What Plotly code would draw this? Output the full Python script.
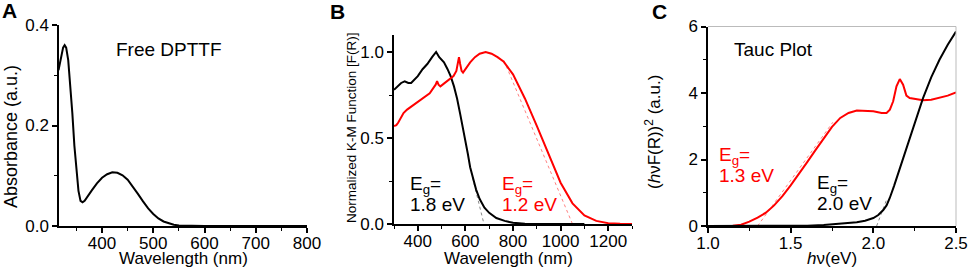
import plotly.graph_objects as go

W, H = 969, 269

# ---------------- Panel A: free DPTTF absorbance ----------------
a_wavelength = [315, 320, 324, 327, 330, 334, 338, 342, 346, 350, 354, 358, 362, 366, 372, 380, 390,
                400, 410, 420, 430, 440, 450, 460, 470, 480, 490, 500, 510, 520, 530, 540, 550,
                570, 600, 700, 800]
a_absorbance = [0.31, 0.335, 0.355, 0.36, 0.355, 0.33, 0.285, 0.225, 0.16, 0.105, 0.07, 0.05, 0.047,
                0.05, 0.058, 0.071, 0.085, 0.096, 0.103, 0.107, 0.106, 0.101, 0.092, 0.079, 0.064,
                0.049, 0.035, 0.024, 0.015, 0.009, 0.005, 0.0025, 0.001, 0.0003, 0.0, 0.0, 0.0]

# ---------------- Panel B: normalized K-M function ----------------
b_black_wl = [300, 315, 330, 345, 360, 372, 385, 400, 420, 440, 460, 477, 490, 510, 525, 538, 552,
              565, 578, 590, 600, 610, 620, 632, 645, 660, 680, 700, 730, 765, 800, 850, 900, 1000, 1100]
b_black_km = [0.78, 0.80, 0.82, 0.83, 0.82, 0.82, 0.84, 0.86, 0.90, 0.93, 0.97, 1.0, 0.97, 0.94,
              0.90, 0.86, 0.80, 0.73, 0.64, 0.56, 0.49, 0.41, 0.33, 0.26, 0.20, 0.145, 0.095, 0.065,
              0.035, 0.018, 0.007, 0.002, 0.0, 0.0, 0.0]
b_red_wl = [300, 310, 318, 330, 340, 355, 370, 390, 410, 430, 450, 465, 475, 481, 487, 495, 505, 520,
            535, 550, 562, 568, 573, 578, 584, 590, 600, 620, 640, 660, 685, 710, 735, 760, 800, 850,
            900, 950, 1000, 1050, 1100, 1150, 1200, 1250, 1300]
b_red_km = [0.57, 0.575, 0.59, 0.625, 0.645, 0.665, 0.68, 0.695, 0.715, 0.74, 0.76, 0.79, 0.81, 0.83,
            0.81, 0.80, 0.81, 0.825, 0.84, 0.86, 0.89, 0.94, 0.97, 0.93, 0.89, 0.88, 0.90, 0.94, 0.97,
            0.99, 1.0, 0.99, 0.97, 0.945, 0.87, 0.73, 0.57, 0.40, 0.24, 0.12, 0.05, 0.018, 0.005,
            0.001, 0.0]
b_black_tangent_wl = [630, 678]
b_black_tangent_km = [0.27, 0.0]
b_red_tangent_wl = [762, 1050]
b_red_tangent_km = [0.95, 0.0]

# ---------------- Panel C: Tauc plot ----------------
c_red_ev = [1.0, 1.1, 1.15, 1.2, 1.25, 1.3, 1.35, 1.4, 1.45, 1.5, 1.55, 1.6, 1.65, 1.7, 1.75, 1.8,
            1.85, 1.9, 1.95, 2.0, 2.05, 2.08, 2.1, 2.12, 2.14, 2.16, 2.18, 2.2, 2.22, 2.25, 2.3,
            2.35, 2.4, 2.45, 2.5]
c_red_tauc = [0.0, 0.0, 0.01, 0.04, 0.13, 0.25, 0.40, 0.62, 0.90, 1.22, 1.56, 1.92, 2.28, 2.65, 2.98,
              3.25, 3.40, 3.47, 3.47, 3.45, 3.40, 3.40, 3.50, 3.75, 4.2, 4.42, 4.25, 3.92, 3.85,
              3.82, 3.78, 3.80, 3.85, 3.92, 4.02]
c_black_ev = [1.0, 1.5, 1.6, 1.7, 1.8, 1.85, 1.9, 1.95, 2.0, 2.03, 2.06, 2.08, 2.1, 2.125, 2.15,
              2.2, 2.25, 2.3, 2.35, 2.4, 2.45, 2.5]
c_black_tauc = [0.0, 0.0, 0.01, 0.03, 0.06, 0.08, 0.11, 0.16, 0.24, 0.33, 0.48, 0.62, 0.85, 1.2,
                1.58, 2.39, 3.14, 3.84, 4.47, 5.0, 5.45, 5.85]
c_red_tangent_ev = [1.30, 1.755]
c_red_tangent_tauc = [0.0, 3.12]
c_black_tangent_ev = [2.02, 2.08]
c_black_tangent_tauc = [0.0, 0.79]

FONT = "Arial, Liberation Sans, sans-serif"
RED = "#ff0000"


def fx(p):
    return p / W


def fy(p):
    return 1 - p / H


fig = go.Figure()


def line(x, y, xa, ya, color, width=2, dash=None):
    fig.add_trace(go.Scatter(x=x, y=y, mode="lines", xaxis=xa, yaxis=ya, showlegend=False,
                             hoverinfo="skip",
                             line=dict(color=color, width=width, dash=dash)))


line(a_wavelength, a_absorbance, "x", "y", "black")
line(b_black_tangent_wl, b_black_tangent_km, "x2", "y2", "#888888", 1, "dot")
line(b_red_tangent_wl, b_red_tangent_km, "x2", "y2", "#ff8080", 1, "dot")
line(b_black_wl, b_black_km, "x2", "y2", "black")
line(b_red_wl, b_red_km, "x2", "y2", RED)
line(c_red_tangent_ev, c_red_tangent_tauc, "x3", "y3", "#ff8080", 1, "dot")
line(c_black_tangent_ev, c_black_tangent_tauc, "x3", "y3", "#888888", 1, "dot")
line(c_red_ev, c_red_tauc, "x3", "y3", RED)
line(c_black_ev, c_black_tauc, "x3", "y3", "black")

base = dict(showline=True, linecolor="black", linewidth=1.5, ticks="outside", ticklen=5,
            tickwidth=1.5, tickcolor="black", showgrid=False, zeroline=False,
            tickfont=dict(family=FONT, size=17, color="black"), automargin=False)


def ax(**kw):
    d = dict(base)
    d.update(kw)
    return d


def minor(step):
    return dict(dtick=step, ticks="outside", ticklen=3, tickcolor="black", tickwidth=1)


fig.update_layout(
    width=W, height=H, margin=dict(l=0, r=0, t=0, b=0),
    paper_bgcolor="white", plot_bgcolor="white",
    font=dict(family=FONT, color="black"),
    xaxis=ax(domain=[fx(59), fx(307)], range=[316, 800], anchor="y", dtick=100, tick0=0,
             minor=minor(50), ticklabelstandoff=-4),
    yaxis=ax(domain=[fy(226), fy(25)], range=[0, 0.4], anchor="x", dtick=0.2, tickformat=".1f",
             minor=minor(0.1)),
    xaxis2=ax(domain=[fx(394), fx(632)], range=[300, 1300], anchor="y2", dtick=200, tick0=0,
              minor=minor(100), ticklabelstandoff=-4),
    yaxis2=ax(domain=[fy(224), fy(34.8)], range=[0, 1.1], anchor="x2", dtick=0.5, tickformat=".1f",
              minor=minor(0.25)),
    xaxis3=ax(domain=[fx(708), fx(956)], range=[1.0, 2.5], anchor="y3", dtick=0.5, tickformat=".1f",
              minor=minor(0.25), ticklabelstandoff=-4),
    yaxis3=ax(domain=[fy(226), fy(26.5)], range=[0, 6], anchor="x3", dtick=2, minor=minor(1)),
)

# faint frame on top/right of panel C
fig.add_shape(type="line", xref="x3 domain", yref="y3 domain", x0=0, x1=1, y0=1, y1=1,
              line=dict(color="#bbbbbb", width=1))
fig.add_shape(type="line", xref="x3 domain", yref="y3 domain", x0=1, x1=1, y0=0, y1=1,
              line=dict(color="#bbbbbb", width=1))


def note(text, x, y, size=19, color="black", bold=False, xanchor="left", angle=0):
    if bold:
        text = "<b>" + text + "</b>"
    fig.add_annotation(text=text, x=fx(x), y=fy(y), xref="paper", yref="paper", showarrow=False,
                       xanchor=xanchor, yanchor="middle", textangle=angle, borderpad=0,
                       font=dict(family=FONT, size=size, color=color))


# axis titles
note("Wavelength (nm)", 183, 258, size=17, xanchor="center")
note("Absorbance (a.u.)", 11, 137, size=18, xanchor="center", angle=-90)
note("Wavelength (nm)", 508, 258, size=17, xanchor="center")
note("Normalized K-M Function [F(R)]", 351, 128, size=13.5, xanchor="center", angle=-90)
note("<i>h</i>ν(eV)", 832, 258, size=17, xanchor="center")
note("(<i>h</i>νF(R))<sup>2</sup> (a.u.)", 653, 132, size=17, xanchor="center", angle=-90)

# panel letters and labels
note("A", 9, 10, size=21, bold=True, xanchor="center")
note("B", 337, 11, size=21, bold=True, xanchor="center")
note("C", 659, 11, size=21, bold=True, xanchor="center")
note("Free DPTTF", 169, 49, xanchor="center")
note("Tauc Plot", 773, 50, xanchor="center")
note("E<sub>g</sub>=", 409, 185)
note("1.8 eV", 409, 204)
note("E<sub>g</sub>=", 501, 185, color=RED)
note("1.2 eV", 501, 204, color=RED)
note("E<sub>g</sub>=", 718, 156, color=RED)
note("1.3 eV", 718, 175, color=RED)
note("E<sub>g</sub>=", 816, 184)
note("2.0 eV", 816, 203)

fig.write_html("out.html", config={"displayModeBar": False},
               post_script="document.body.style.margin='0';document.body.style.overflow='hidden';")
